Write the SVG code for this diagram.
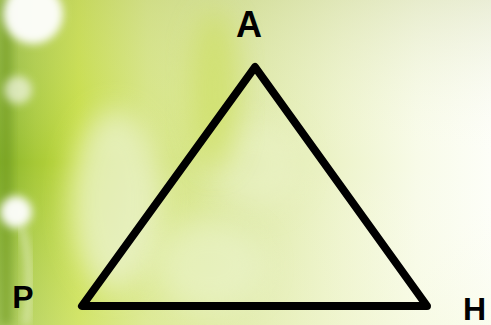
<svg xmlns="http://www.w3.org/2000/svg" width="491" height="325" viewBox="0 0 491 325">
  <defs>
    <linearGradient id="bg" x1="0" y1="0" x2="1" y2="0">
      <stop offset="0" stop-color="#86b22a"/>
      <stop offset="0.07" stop-color="#a6c836"/>
      <stop offset="0.16" stop-color="#c4dc3c"/>
      <stop offset="0.3" stop-color="#d4e47c"/>
      <stop offset="0.5" stop-color="#dce8a0"/>
      <stop offset="0.7" stop-color="#eef4cc"/>
      <stop offset="0.85" stop-color="#f8fbe8"/>
      <stop offset="1" stop-color="#fdfef8"/>
    </linearGradient>
    <linearGradient id="topfade" x1="0" y1="0" x2="0" y2="1">
      <stop offset="0" stop-color="#c8d098" stop-opacity="0.35"/>
      <stop offset="0.5" stop-color="#ffffff" stop-opacity="0"/>
      <stop offset="1" stop-color="#f4f8d8" stop-opacity="0.3"/>
    </linearGradient>
    <filter id="blur" x="-50%" y="-50%" width="200%" height="200%">
      <feGaussianBlur stdDeviation="4"/>
    </filter>
    <filter id="bigblur" x="-50%" y="-50%" width="200%" height="200%">
      <feGaussianBlur stdDeviation="14"/>
    </filter>
    <style>
      .lbl { font-family: "Liberation Sans", Arial, sans-serif; font-weight: bold; fill: #000; }
      .edge { fill: none; stroke: #000; stroke-width: 8; stroke-linejoin: round; stroke-linecap: round; }
    </style>
  </defs>

  <g id="background">
    <rect width="491" height="325" fill="url(#bg)"/>
    <rect width="491" height="325" fill="url(#topfade)"/>
    <ellipse cx="115" cy="200" rx="45" ry="90" fill="#eef4d8" opacity="0.7" filter="url(#bigblur)"/>
    <ellipse cx="255" cy="165" rx="45" ry="45" fill="#eef4d0" opacity="0.5" filter="url(#bigblur)"/>
    <ellipse cx="210" cy="265" rx="55" ry="45" fill="#eef6d4" opacity="0.5" filter="url(#bigblur)"/>
    <ellipse cx="215" cy="90" rx="25" ry="80" fill="#c8dc48" opacity="0.5" filter="url(#bigblur)"/>
    <rect x="0" y="0" width="12" height="325" fill="#6f9a22" opacity="0.6" filter="url(#blur)"/>
    <circle cx="33" cy="14" r="30" fill="#ffffff" opacity="0.95" filter="url(#blur)"/>
    <circle cx="18" cy="90" r="14" fill="#f4f8e8" opacity="0.7" filter="url(#blur)"/>
    <circle cx="16" cy="212" r="16" fill="#ffffff" opacity="0.95" filter="url(#blur)"/>
    <path d="M22 228 Q34 270 26 325" fill="none" stroke="#f4f8e4" stroke-width="5" opacity="0.7" filter="url(#blur)"/>
  </g>

  <g id="connectors">
    <polygon class="edge" points="255,67 82,306 427,306"/>
  </g>

  <g id="node-A"><text class="lbl" x="249" y="37" font-size="36" text-anchor="middle">A</text></g>
  <g id="node-P"><text class="lbl" x="23" y="308" font-size="32" text-anchor="middle">P</text></g>
  <g id="node-H"><text class="lbl" x="463" y="320" font-size="32">H</text></g>
</svg>
